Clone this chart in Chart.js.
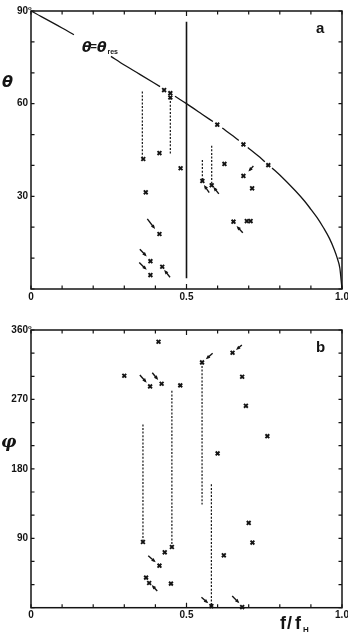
<!DOCTYPE html>
<html>
<head>
<meta charset="utf-8">
<script src="https://cdn.jsdelivr.net/npm/chart.js@4.4.1/dist/chart.umd.min.js"></script>
<style>
  html, body { margin: 0; padding: 0; background: #fff; }
  #wrap { position: relative; width: 348px; height: 634px; overflow: hidden; }
  canvas { position: absolute; left: 0; }
</style>
</head>
<body>
<div id="wrap">
  <canvas id="chartA" width="348" height="317" style="top:0"></canvas>
  <canvas id="chartB" width="348" height="317" style="top:317px"></canvas>
</div>
<script>
// ticks and tick labels
var fTicks = [0, 0.1, 0.2, 0.3, 0.4, 0.5, 0.6, 0.7, 0.8, 0.9, 1.0];
var fLabelValues = [0, 0.5, 1.0];
var fLabels = ['0', '0.5', '1.0'];
var thetaTicks = [0, 10, 20, 30, 40, 50, 60, 70, 80, 90];
var thetaLabelValues = [30, 60, 90];
var thetaLabels = ['30', '60', '90'];
var phiTicks = [0, 30, 60, 90, 120, 150, 180, 210, 240, 270, 300, 330, 360];
var phiLabelValues = [90, 180, 270, 360];
var phiLabels = ['90', '180', '270', '360'];

// theta = theta_res curve (null = gap in the line)
var resF     = [0, 0.1, 0.138, 0.2, 0.257, 0.3, 0.35, 0.415, 0.44, 0.463, 0.5, 0.55, 0.585, 0.6, 0.615, 0.65, 0.668, 0.683, 0.697, 0.73, 0.752, 0.763, 0.775, 0.8, 0.85, 0.88, 0.9, 0.92, 0.94, 0.96, 0.975, 0.985, 0.993, 1.0];
var resTheta = [90, 84.5, 82.3, null, 75.3, 72.5, 69.5, 65.5, null, 62.4, 60, 56.6, 54.2, null, 52.1, 49.5, 48.1, null, 45.8, 43.1, 41.2, null, 39.2, 36.9, 31.8, 28.4, 25.8, 23.1, 19.9, 16.3, 12.8, 9.9, 6.8, 0];

// vertical line f/fH = 0.5 in panel a
var halfF = [0.5, 0.5];
var halfTheta = [86.5, 3.5];

// panel a markers
var fA     = [0.428, 0.448, 0.448, 0.361, 0.413, 0.481, 0.551, 0.581, 0.599, 0.683, 0.763, 0.622, 0.683, 0.711, 0.369, 0.413, 0.384, 0.422, 0.384, 0.651, 0.694, 0.706];
var thetaA = [64.4, 63.4, 62.0, 42.1, 44.0, 39.1, 35.0, 33.6, 53.2, 46.8, 40.1, 40.5, 36.6, 32.6, 31.3, 17.8, 9.0, 7.2, 4.5, 21.8, 22.0, 22.0];

// panel a dashed links
var dashAF      = [0.358, 0.448, 0.551, 0.581];
var dashATop    = [63.9, 62.0, 41.8, 46.4];
var dashABottom = [42.1, 43.4, 35.0, 33.6];

// panel a arrows: [f tail, theta tail, f head, theta head]
var arrowsA = [
  [0.374, 22.7, 0.399, 19.4],
  [0.350, 12.9, 0.372, 10.5],
  [0.447, 3.8, 0.428, 6.2],
  [0.348, 8.6, 0.372, 6.2],
  [0.681, 18.2, 0.661, 20.4],
  [0.715, 39.8, 0.699, 38.0],
  [0.573, 31.2, 0.556, 33.7],
  [0.604, 30.8, 0.586, 33.1]
];

// panel b markers
var fB   = [0.410, 0.300, 0.383, 0.420, 0.480, 0.550, 0.648, 0.679, 0.691, 0.760, 0.600, 0.360, 0.453, 0.580, 0.700, 0.712, 0.620, 0.430, 0.413, 0.370, 0.380, 0.450, 0.679];
var phiB = [344.8, 300.7, 286.9, 290.3, 288.2, 318, 330.5, 299.4, 261.7, 222.4, 200, 85.2, 78.7, 2.1, 109.9, 84.4, 67.9, 71.8, 54.5, 39, 32, 31.2, 0.8];

// panel b dashed links
var dashBF      = [0.360, 0.453, 0.550, 0.580];
var dashBTop    = [237.6, 281.2, 318, 160];
var dashBBottom = [85.2, 78.7, 133.7, 2.1];

// panel b arrows
var arrowsB = [
  [0.350, 301.7, 0.372, 291.7],
  [0.390, 304.6, 0.409, 295.2],
  [0.584, 329.8, 0.562, 322],
  [0.678, 340.6, 0.659, 334.1],
  [0.377, 67.4, 0.401, 58.9],
  [0.406, 21.7, 0.388, 29.4],
  [0.548, 13.5, 0.570, 5.7],
  [0.647, 15.2, 0.670, 5.7]
];

var INK = '#141414';
var SANS = '"Liberation Sans", Arial, sans-serif';

function pts(xs, ys) {
  return xs.map(function (x, i) { return { x: x, y: ys[i] }; });
}

function dashSets(fs, tops, bottoms) {
  return fs.map(function (f, i) {
    return {
      type: 'line', data: [{ x: f, y: tops[i] }, { x: f, y: bottoms[i] }],
      borderColor: INK, borderWidth: 1.2, borderDash: [2, 1.6],
      pointRadius: 0, fill: false, clip: false
    };
  });
}

function markerSet(xs, ys) {
  return {
    type: 'scatter', data: pts(xs, ys),
    pointStyle: 'crossRot', pointRadius: 2.7, borderWidth: 1.9,
    borderColor: INK, backgroundColor: INK, clip: false
  };
}

// frame, inside ticks, tick labels, arrows and the texts
function decorPlugin(cfg) {
  return {
    id: 'decor',
    afterDatasetsDraw: function (chart) {
      var ctx = chart.ctx, xs = chart.scales.x, ys = chart.scales.y;
      ctx.save();
      ctx.strokeStyle = INK;
      ctx.fillStyle = INK;
      ctx.lineWidth = 1.4;
      cfg.arrows.forEach(function (a) {
        var x0 = xs.getPixelForValue(a[0]), y0 = ys.getPixelForValue(a[1]);
        var x1 = xs.getPixelForValue(a[2]), y1 = ys.getPixelForValue(a[3]);
        var ang = Math.atan2(y1 - y0, x1 - x0);
        ctx.beginPath();
        ctx.moveTo(x0, y0);
        ctx.lineTo(x1 - 2 * Math.cos(ang), y1 - 2 * Math.sin(ang));
        ctx.stroke();
        ctx.beginPath();
        ctx.moveTo(x1, y1);
        ctx.lineTo(x1 - 4.5 * Math.cos(ang) + 1.8 * Math.sin(ang), y1 - 4.5 * Math.sin(ang) - 1.8 * Math.cos(ang));
        ctx.lineTo(x1 - 4.5 * Math.cos(ang) - 1.8 * Math.sin(ang), y1 - 4.5 * Math.sin(ang) + 1.8 * Math.cos(ang));
        ctx.closePath();
        ctx.fill();
      });
      ctx.restore();
    },
    afterDraw: function (chart) {
      var ctx = chart.ctx, a = chart.chartArea, xs = chart.scales.x, ys = chart.scales.y;
      ctx.save();
      ctx.strokeStyle = INK;
      ctx.fillStyle = INK;
      ctx.lineWidth = 1.5;
      ctx.strokeRect(a.left, a.top, a.right - a.left, a.bottom - a.top);
      ctx.lineWidth = 1.2;
      ctx.beginPath();
      fTicks.forEach(function (v) {
        var x = xs.getPixelForValue(v);
        var len = v === 0.5 ? 5 : 3.5;
        ctx.moveTo(x, a.top); ctx.lineTo(x, a.top + len);
        ctx.moveTo(x, a.bottom); ctx.lineTo(x, a.bottom - len);
      });
      cfg.yTicks.forEach(function (v) {
        var y = ys.getPixelForValue(v);
        ctx.moveTo(a.left, y); ctx.lineTo(a.left + 3.5, y);
        ctx.moveTo(a.right, y); ctx.lineTo(a.right - 3.5, y);
      });
      ctx.stroke();

      ctx.font = 'bold 10px ' + SANS;
      ctx.textBaseline = 'middle';
      ctx.textAlign = 'center';
      fLabelValues.forEach(function (v, i) {
        ctx.fillText(fLabels[i], xs.getPixelForValue(v), a.bottom + 8);
      });
      ctx.textAlign = 'right';
      cfg.yLabelValues.forEach(function (v, i) {
        var y = ys.getPixelForValue(v);
        ctx.fillText(cfg.yLabels[i], a.left - 3, y);
        if (i === cfg.yLabelValues.length - 1) {
          ctx.save();
          ctx.font = 'bold 6px ' + SANS;
          ctx.textAlign = 'left';
          ctx.fillText('o', a.left - 3, y - 3);
          ctx.restore();
        }
      });
      cfg.texts(ctx, a);
      ctx.restore();
    }
  };
}

function makeChart(id, datasets, yMax, padBottom, padTop, cfg) {
  return new Chart(document.getElementById(id), {
    type: 'scatter',
    data: { datasets: datasets },
    options: {
      responsive: false,
      animation: false,
      devicePixelRatio: 1,
      layout: { padding: { left: 31, right: 6, top: padTop, bottom: padBottom } },
      scales: {
        x: { type: 'linear', min: 0, max: 1, display: false },
        y: { type: 'linear', min: 0, max: yMax, display: false }
      },
      plugins: { legend: { display: false }, tooltip: { enabled: false } }
    },
    plugins: [decorPlugin(cfg)]
  });
}

var setsA = [
  {
    type: 'line', data: pts(resF, resTheta), borderColor: INK, borderWidth: 1.3,
    pointRadius: 0, spanGaps: false, fill: false, clip: false,
    cubicInterpolationMode: 'monotone'
  },
  {
    type: 'line', data: pts(halfF, halfTheta), borderColor: INK, borderWidth: 1.6,
    pointRadius: 0, fill: false
  }
].concat(dashSets(dashAF, dashATop, dashABottom), [markerSet(fA, thetaA)]);

makeChart('chartA', setsA, 90, 28, 11, {
  yTicks: thetaTicks, yLabelValues: thetaLabelValues, yLabels: thetaLabels, arrows: arrowsA,
  texts: function (ctx) {
    ctx.textAlign = 'left';
    ctx.textBaseline = 'alphabetic';
    ctx.font = 'bold italic 16px "DejaVu Sans", sans-serif';
    ctx.fillText('θ', 2, 87);
    ctx.font = 'bold italic 14px "DejaVu Sans", sans-serif';
    ctx.fillText('θ', 82, 52);
    ctx.font = 'bold 11px ' + SANS;
    ctx.fillText('=', 90.5, 50);
    ctx.font = 'bold italic 14px "DejaVu Sans", sans-serif';
    ctx.fillText('θ', 97, 52);
    ctx.font = 'bold 7px ' + SANS;
    ctx.fillText('res', 107.5, 54);
    ctx.font = 'bold 15px ' + SANS;
    ctx.fillText('a', 316, 33);
  }
});

var setsB = dashSets(dashBF, dashBTop, dashBBottom).concat([markerSet(fB, phiB)]);

makeChart('chartB', setsB, 360, 26.3, 13, {
  yTicks: phiTicks, yLabelValues: phiLabelValues, yLabels: phiLabels, arrows: arrowsB,
  texts: function (ctx) {
    ctx.textAlign = 'left';
    ctx.textBaseline = 'alphabetic';
    ctx.font = 'bold italic 17px "DejaVu Serif", serif';
    ctx.fillText('φ', 1, 130);
    ctx.font = 'bold 15px ' + SANS;
    ctx.fillText('b', 316, 35);
    ctx.font = 'bold 18px ' + SANS;
    ctx.fillText('f', 280, 312);
    ctx.fillText('/', 287, 312);
    ctx.fillText('f', 295, 312);
    ctx.font = 'bold 8px ' + SANS;
    ctx.fillText('H', 303, 315);
  }
});
</script>
</body>
</html>
